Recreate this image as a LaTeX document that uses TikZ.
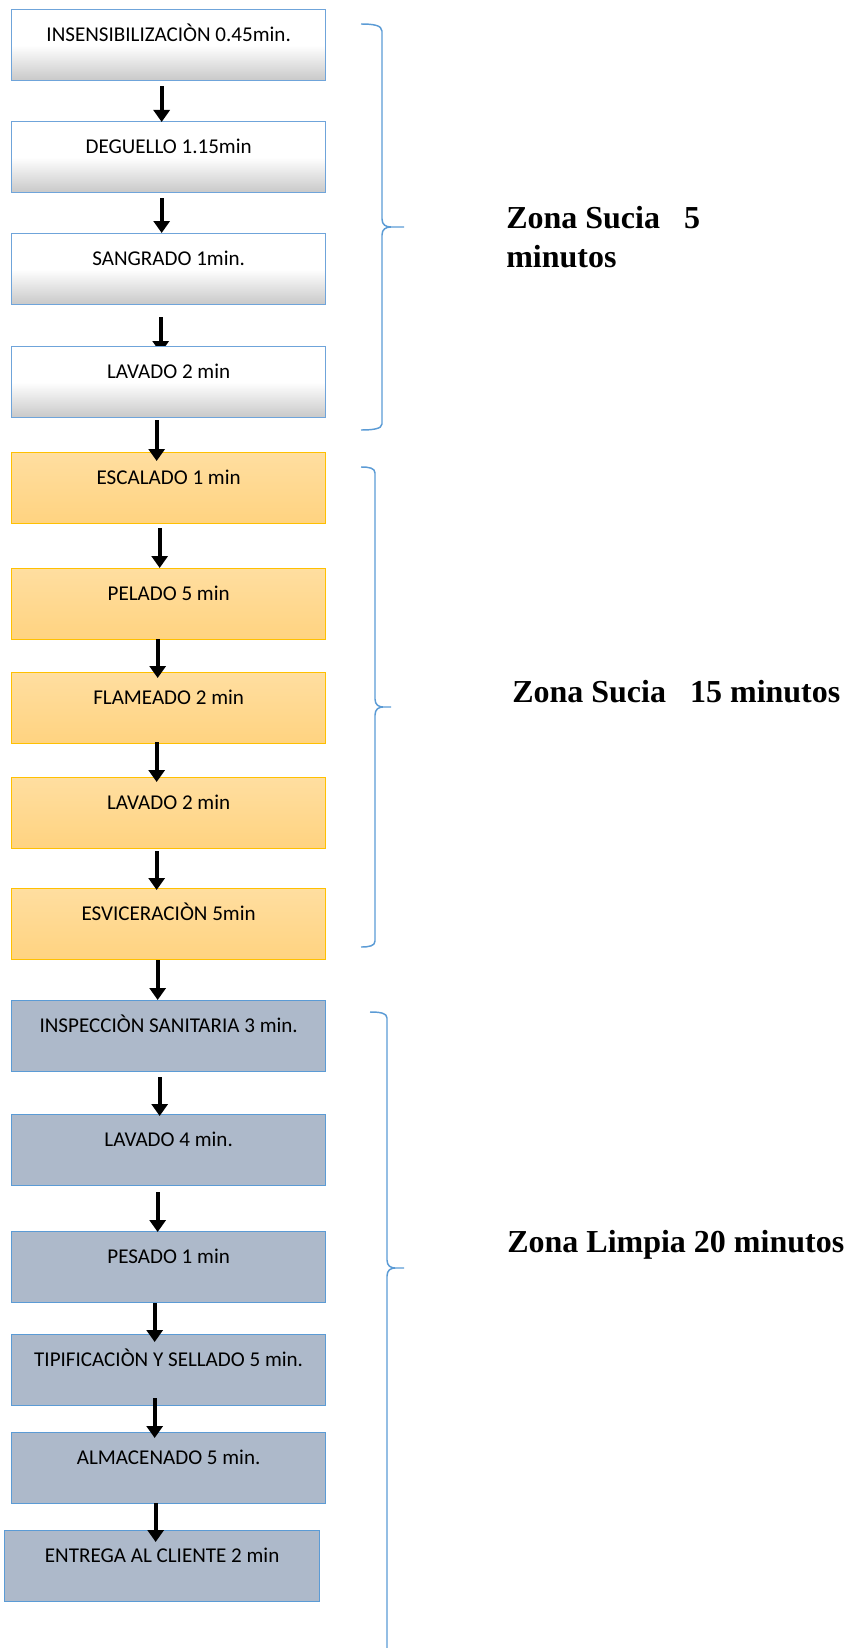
\documentclass[tikz,border=0pt]{standalone}
\usepackage{fontspec}
\setmainfont{Liberation Serif}
\newfontfamily\boxfont{Carlito}
\usetikzlibrary{arrows.meta,calc}

\definecolor{edgeblue}{RGB}{111,164,218}
\definecolor{graybottom}{RGB}{200,200,200}
\definecolor{orangetop}{RGB}{255,222,160}
\definecolor{orangebottom}{RGB}{255,211,128}
\definecolor{orangeedge}{RGB}{255,192,0}
\definecolor{slatefill}{RGB}{173,185,202}
\definecolor{slateedge}{RGB}{91,155,213}
\definecolor{braceblue}{RGB}{91,155,213}

\pgfdeclarelayer{behind}
\pgfsetlayers{behind,main}

\begin{document}
\begin{tikzpicture}[x=0.75pt,y=-0.75pt,
  stage/.style={rectangle, anchor=north west, minimum width=235.5pt,
    minimum height=53.25pt, inner sep=0pt, text height=23.6pt,
    text depth=29.65pt, line width=1pt,
    font=\boxfont\fontsize{15.8}{18}\selectfont},
  greystage/.style={stage, draw=edgeblue, top color=white,
    bottom color=graybottom, middle color=white},
  orangestage/.style={stage, draw=orangeedge, top color=orangetop,
    bottom color=orangebottom},
  slatestage/.style={stage, draw=slateedge, fill=slatefill},
  flow/.style={line width=3.2pt, draw=black,
    -{Triangle[width=12pt,length=9pt]}},
  zonebrace/.style={draw=braceblue, line width=1.1pt},
  zonelabel/.style={anchor=base west, inner sep=0pt, align=left,
    font=\bfseries\fontsize{24}{29.25}\selectfont}]

\useasboundingbox (0,0) rectangle (847,1648);

% dirty zone, first stage: grey boxes
\node[greystage] (b1) at (11,9) {INSENSIBILIZACIÒN 0.45min.};
\node[greystage] (b2) at (11,121) {DEGUELLO 1.15min};
\node[greystage] (b3) at (11,233) {SANGRADO 1min.};
\node[greystage] (b4) at (11,346) {LAVADO 2 min};

% dirty zone, second stage: orange boxes
\node[orangestage] (b5) at (11,452) {ESCALADO 1 min};
\node[orangestage] (b6) at (11,568) {PELADO 5 min};
\node[orangestage] (b7) at (11,672) {FLAMEADO 2 min};
\node[orangestage] (b8) at (11,777) {LAVADO 2 min};
\node[orangestage] (b9) at (11,888) {ESVICERACIÒN 5min};

% clean zone: slate boxes
\node[slatestage] (b10) at (11,1000) {INSPECCIÒN SANITARIA 3 min.};
\node[slatestage] (b11) at (11,1114) {LAVADO 4 min.};
\node[slatestage] (b12) at (11,1231) {PESADO 1 min};
\node[slatestage] (b13) at (11,1334) {TIPIFICACIÒN Y SELLADO 5 min.};
\node[slatestage] (b14) at (11,1432) {ALMACENADO 5 min.};
\node[slatestage, minimum width=236.25pt] (b15) at (4,1530) {ENTREGA AL CLIENTE 2 min};

% flow arrows
\draw[flow] ($(b1.south)+(-7,5)$) -- ($(b2.north)+(-7,1)$);
\draw[flow] ($(b2.south)+(-7,5)$) -- ($(b3.north)+(-7,0)$);
\begin{pgfonlayer}{behind}
\draw[flow] ($(b3.south)+(-8,12)$) -- ($(b4.north)+(-8,7)$);
\end{pgfonlayer}
\draw[flow] ($(b4.south)+(-12,2)$) -- ($(b5.north)+(-12,9)$);
\draw[flow] ($(b5.south)+(-9,4)$) -- ($(b6.north)+(-9,0)$);
\draw[flow] ($(b6.south)+(-11,-1)$) -- ($(b7.north)+(-11,6)$);
\draw[flow] ($(b7.south)+(-12,-2)$) -- ($(b8.north)+(-12,5)$);
\draw[flow] ($(b8.south)+(-12,2)$) -- ($(b9.north)+(-12,2)$);
\draw[flow] ($(b9.south)+(-11,0)$) -- ($(b10.north)+(-11,0)$);
\draw[flow] ($(b10.south)+(-9,5)$) -- ($(b11.north)+(-9,2)$);
\draw[flow] ($(b11.south)+(-11,6)$) -- ($(b12.north)+(-11,1)$);
\draw[flow] ($(b12.south)+(-14,0)$) -- ($(b13.north)+(-14,8)$);
\draw[flow] ($(b13.south)+(-14,-8)$) -- ($(b14.north)+(-14,6)$);
\draw[flow] ($(b14.south)+(-13,-1)$) -- ($(b15.north)+(-6.5,12)$);

% zone braces
\draw[zonebrace] (361,24) .. controls (372,24) and (382,25) .. (382,31)
  -- (382,219) .. controls (382,225) and (386,227) .. (391,227) -- (404,227)
  (391,227) .. controls (386,227) and (382,229) .. (382,235)
  -- (382,424) .. controls (382,429) and (372,430) .. (361,430);
\draw[zonebrace] (361,467) .. controls (369,467) and (375,468) .. (375,473)
  -- (375,699) .. controls (375,705) and (379,707) .. (383,707) -- (391,707)
  (383,707) .. controls (379,707) and (375,709) .. (375,715)
  -- (375,941) .. controls (375,946) and (369,947) .. (361,947);
\draw[zonebrace] (370,1012) .. controls (380,1012) and (387,1013) .. (387,1018)
  -- (387,1260) .. controls (387,1266) and (391,1268) .. (395,1268) -- (404,1268)
  (395,1268) .. controls (391,1268) and (387,1270) .. (387,1276)
  -- (387,1648);

% zone labels (a two-line node sits on the baseline of its last line)
\node[zonelabel] (z1) at (506,267) {Zona Sucia\hspace{0.75em}5\\minutos};
\node[zonelabel] (z2) at (512,702) {Zona Sucia\hspace{0.75em}15 minutos};
\node[zonelabel] (z3) at (507,1252) {Zona Limpia 20 minutos};

\end{tikzpicture}
\end{document}
